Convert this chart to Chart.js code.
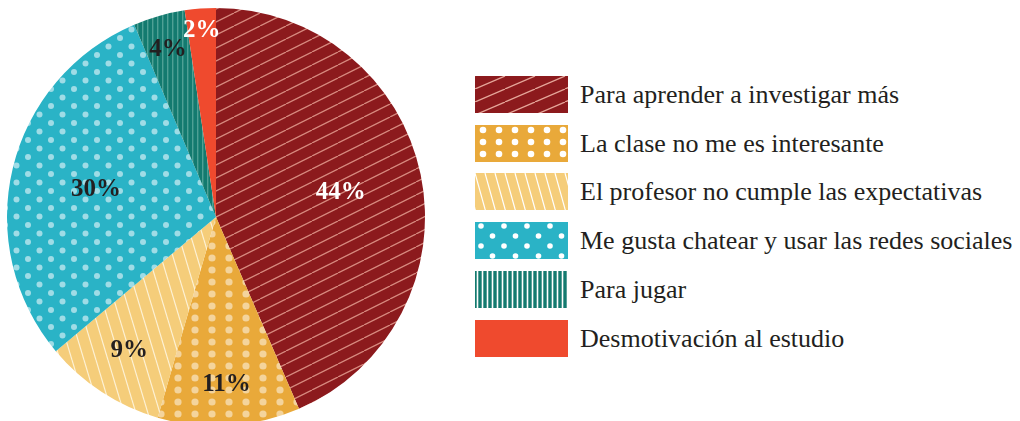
<!DOCTYPE html>
<html>
<head>
<meta charset="utf-8">
<script src="https://cdn.jsdelivr.net/npm/chart.js@4/dist/chart.umd.min.js"></script>
<style>
  html, body { margin: 0; padding: 0; background: #fff; width: 1020px; height: 421px; overflow: hidden; }
  #wrap { position: absolute; left: 0; top: 0; width: 432px; height: 436px; }
  #legend { position: absolute; left: 475px; top: 76px; }
  .item { position: absolute; left: 0; height: 37px; width: 560px; }
  .item canvas { position: absolute; left: 0; top: 0; }
  .item span { position: absolute; left: 105px; top: 0; line-height: 37px; font-family: "Liberation Serif", "Times New Roman", serif; font-size: 26px; color: #231f20; white-space: nowrap; }
</style>
</head>
<body>
<div id="wrap"><canvas id="c" width="432" height="436"></canvas></div>
<div id="legend"></div>
<script>
const categories = [
  "Para aprender a investigar más",
  "La clase no me es interesante",
  "El profesor no cumple las expectativas",
  "Me gusta chatear y usar las redes sociales",
  "Para jugar",
  "Desmotivación al estudio"
];
const values = [43.5, 11.0, 9.4, 29.7, 4.0, 2.4];
const valueLabels = ["44%", "11%", "9%", "30%", "4%", "2%"];

const baseColors = ["#8c1a1d", "#e9a93a", "#f5cd7a", "#2ab3c6", "#137a6f", "#ef4a2e"];

function tile(w, h, bg, draw) {
  const c = document.createElement('canvas');
  c.width = w; c.height = h;
  const g = c.getContext('2d');
  g.fillStyle = bg; g.fillRect(0, 0, w, h);
  draw(g, w, h);
  return c;
}
function slashLines(fg, lw) {
  return (g, w, h) => {
    g.strokeStyle = fg; g.lineWidth = lw;
    for (const dx of [-w, 0, w]) {
      g.beginPath(); g.moveTo(dx, h); g.lineTo(dx + w, 0); g.stroke();
    }
  };
}
function backLines(fg, lw) {
  return (g, w, h) => {
    g.strokeStyle = fg; g.lineWidth = lw;
    for (const dx of [-w, 0, w]) {
      g.beginPath(); g.moveTo(dx, 0); g.lineTo(dx + w, h); g.stroke();
    }
  };
}
function vLines(fg, lw) {
  return (g, w, h) => {
    g.fillStyle = fg; g.fillRect(w / 2 - lw / 2, 0, lw, h);
  };
}
function dots(fg, r, pts) {
  return (g, w, h) => {
    g.fillStyle = fg;
    for (const [px, py] of pts) {
      for (const ox of [-w, 0, w]) for (const oy of [-h, 0, h]) {
        g.beginPath(); g.arc(px + ox, py + oy, r, 0, Math.PI * 2); g.fill();
      }
    }
  };
}

function piePatterns(ctx) {
  const defs = [
    tile(26, 13, baseColors[0], slashLines("rgba(240,175,160,0.75)", 1.3)),
    tile(17, 12.5, baseColors[1], dots("#f4d49c", 3.6, [[8, 6]])),
    tile(12, 40, baseColors[2], backLines("rgba(255,250,235,0.8)", 1.2)),
    tile(23, 17, baseColors[3], dots("#9fdce6", 3.0, [[5, 4], [16.5, 12.5]])),
    tile(5.5, 10, baseColors[4], vLines("#5aa69c", 1.2)),
    tile(10, 10, baseColors[5], () => {})
  ];
  return defs.map(t => ctx.createPattern(t, 'repeat'));
}
function legendPatterns(ctx) {
  const defs = [
    tile(30, 13, baseColors[0], slashLines("rgba(245,190,175,0.85)", 1.3)),
    tile(16.7, 12, baseColors[1], dots("#ffffff", 3.3, [[8, 5]])),
    tile(10, 36, baseColors[2], backLines("#ffffff", 1.2)),
    tile(23, 20, baseColors[3], dots("#ffffff", 2.8, [[6, 4], [17.5, 14]])),
    tile(5, 10, baseColors[4], vLines("#ffffff", 1.6)),
    tile(10, 10, baseColors[5], () => {})
  ];
  return defs.map(t => ctx.createPattern(t, 'repeat'));
}

const canvas = document.getElementById('c');
const ctx = canvas.getContext('2d');
const fills = piePatterns(ctx);

const labelRadius = [0.61, 0.80, 0.76, 0.59, 0.84, 0.90];
const labelColors = ["#ffffff", "#231f20", "#231f20", "#231f20", "#231f20", "#ffffff"];

const labelPlugin = {
  id: 'sliceLabels',
  afterDatasetsDraw(chart) {
    const meta = chart.getDatasetMeta(0);
    const g = chart.ctx;
    g.save();
    g.font = 'bold 25px "Liberation Serif", "Times New Roman", serif';
    g.textAlign = 'center';
    g.textBaseline = 'middle';
    meta.data.forEach((arc, i) => {
      const p = arc.getProps(['x', 'y', 'startAngle', 'endAngle', 'outerRadius'], true);
      const mid = (p.startAngle + p.endAngle) / 2;
      const r = p.outerRadius * labelRadius[i];
      g.fillStyle = labelColors[i];
      g.fillText(valueLabels[i], p.x + Math.cos(mid) * r, p.y + Math.sin(mid) * r + 1);
    });
    g.restore();
  }
};

new Chart(ctx, {
  type: 'pie',
  data: {
    labels: categories,
    datasets: [{
      data: values,
      backgroundColor: fills,
      borderWidth: 0,
      hoverOffset: 0
    }]
  },
  options: {
    responsive: false,
    animation: false,
    layout: { padding: { left: 7, right: 7, top: 8, bottom: 10 } },
    plugins: { legend: { display: false }, tooltip: { enabled: false } },
    events: []
  },
  plugins: [labelPlugin]
});

// legend
const legend = document.getElementById('legend');
categories.forEach((name, i) => {
  const item = document.createElement('div');
  item.className = 'item';
  item.style.top = (i * 48.7) + 'px';
  const c = document.createElement('canvas');
  c.width = 93; c.height = 37;
  const g = c.getContext('2d');
  g.fillStyle = legendPatterns(g)[i];
  g.fillRect(0, 0, 93, 37);
  const s = document.createElement('span');
  s.textContent = name;
  item.appendChild(c);
  item.appendChild(s);
  legend.appendChild(item);
});
</script>
</body>
</html>
